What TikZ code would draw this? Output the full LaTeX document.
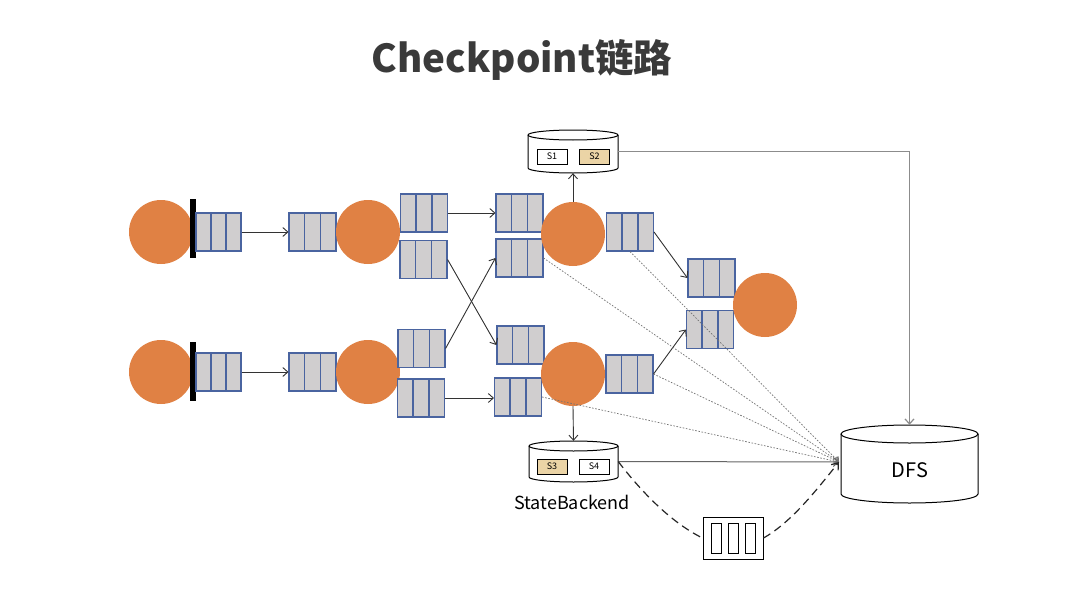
\documentclass[tikz,border=0pt]{standalone}
\usepackage{fontspec}
\setmainfont{Noto Sans CJK SC}
\newfontfamily\cjk{Noto Sans CJK SC}
\usetikzlibrary{arrows.meta,calc}
\definecolor{orng}{HTML}{E08144}
\definecolor{qgray}{HTML}{D0CECF}
\definecolor{qblue}{HTML}{4A64A0}
\definecolor{tan}{HTML}{EBD4A6}
\definecolor{titlec}{HTML}{3A3A3A}
\tikzset{
  proc/.style={circle, fill=orng, minimum size=64, inner sep=0},
  queue/.style={rectangle, draw=qblue, fill=qgray, line width=1.1pt, minimum width=47, minimum height=38, inner sep=0,
    path picture={\draw[qblue,line width=1.4pt]
      ($(path picture bounding box.north west)!1/3!(path picture bounding box.north east)$) -- ($(path picture bounding box.south west)!1/3!(path picture bounding box.south east)$)
      ($(path picture bounding box.north west)!2/3!(path picture bounding box.north east)$) -- ($(path picture bounding box.south west)!2/3!(path picture bounding box.south east)$);}},
  barrier/.style={fill=black, minimum width=6, minimum height=59, inner sep=0},
  conn/.style={draw=black!80, line width=0.9pt, -{Straight Barb[length=5pt,width=9pt]}},
  dotline/.style={draw=black!55, dash pattern=on 1.6pt off 1.6pt, line width=0.7pt, -{Straight Barb[length=4pt,width=7pt]}},
  dashc/.style={draw=black!85, dash pattern=on 8pt off 5pt, line width=1.2pt},
  cyl/.style={draw=black, line width=1pt},
  slot/.style={draw=black, line width=0.9pt, minimum width=30, minimum height=15, inner sep=0, font=\fontsize{9}{9}\selectfont},
}
\begin{document}
\begin{tikzpicture}[x=1pt,y=-1pt]
\useasboundingbox[fill=white] (0,0) rectangle (1080,589);
% title
\node[text=titlec, font=\fontsize{38.5}{38.5}\selectfont\bfseries] (title) at (522,60) {Checkpoint链路};

% top row
\node[proc] (src1) at (161,232) {};
\node[barrier] (bar1) at (193,228.5) {};
\node[queue, minimum width=45] (q1a) at (218.5,232) {};
\node[queue] (q1b) at (312.5,232) {};
\node[proc] (op1) at (368,232) {};
\node[queue] (q1c) at (424,213) {};
\node[queue] (q1d) at (423.5,259.5) {};
\node[queue] (q1e) at (519.5,213) {};
\node[queue] (q1f) at (519.5,258) {};
\node[proc] (op3) at (573,234) {};
\node[queue] (q1g) at (630,232) {};

% bottom row
\node[proc] (src2) at (161,372) {};
\node[barrier] (bar2) at (193,371) {};
\node[queue, minimum width=45] (q2a) at (218.5,372) {};
\node[queue] (q2b) at (312.5,372) {};
\node[proc] (op2) at (368,372) {};
\node[queue] (q2c) at (421.5,348.5) {};
\node[queue] (q2d) at (421,398) {};
\node[queue] (q2e) at (520.5,345) {};
\node[queue] (q2f) at (518,397) {};
\node[proc] (op4) at (573,374) {};
\node[queue] (q2g) at (629.5,374) {};

% right operator
\node[queue] (q3a) at (711.5,278) {};
\node[queue] (q3b) at (710,329.5) {};
\node[proc] (op5) at (765,305) {};

% cylinder A (S1,S2)
\node[minimum width=90, minimum height=43, inner sep=0] (cylA) at (573,151.5) {};
\draw[cyl] (573,135) ellipse [x radius=45pt, y radius=5pt];
\draw[cyl] (528,135) -- (528,168) arc[start angle=180, end angle=360, x radius=45pt, y radius=5pt] -- (618,135);
\node[slot] (s1) at (552,156.5) {S1};
\node[slot, fill=tan] (s2) at (594.5,156.5) {S2};

% cylinder B (S3,S4)
\node[minimum width=89, minimum height=41, inner sep=0] (cylB) at (573.5,461.5) {};
\draw[cyl] (573.5,446) ellipse [x radius=44.5pt, y radius=5pt];
\draw[cyl] (529,446) -- (529,477) arc[start angle=180, end angle=360, x radius=44.5pt, y radius=5pt] -- (618,446);
\node[slot, fill=tan] (s3) at (552,466.5) {S3};
\node[slot] (s4) at (594,466.5) {S4};
\node[font=\fontsize{18}{18}\selectfont] (sb) at (572,502) {StateBackend};

% DFS cylinder
\node[minimum width=137, minimum height=78, inner sep=0] (dfs) at (909.5,464) {};
\draw[cyl] (909.5,434) ellipse [x radius=68.5pt, y radius=9pt];
\draw[cyl] (841,434) -- (841,494) arc[start angle=180, end angle=360, x radius=68.5pt, y radius=9pt] -- (978,434);
\node[font=\fontsize{20}{20}\selectfont] (dfslabel) at (910,470) {DFS};
\coordinate (dfsin) at (839,462);

% buffer box
\node[draw, line width=1pt, minimum width=60, minimum height=42, inner sep=0] (buf) at (733,538) {};
\node[draw, line width=1pt, minimum width=10, minimum height=30, inner sep=0] (b1) at (716,538) {};
\node[draw, line width=1pt, minimum width=10, minimum height=30, inner sep=0] (b2) at (733,538) {};
\node[draw, line width=1pt, minimum width=10, minimum height=30, inner sep=0] (b3) at (750,538) {};

% solid connectors
\draw[conn] (q1a.east) -- (q1b.west);
\draw[conn] (q2a.east) -- (q2b.west);
\draw[conn] (q1c.east) -- (q1e.west);
\draw[conn] (q1d.east) -- (q2e.west);
\draw[conn] (q2c.east) -- (q1f.west);
\draw[conn] (q2d.east) -- (q2f.west |- q2d.east);
\draw[conn] (op3.north) -- (cylA.south);
\draw[conn] (op4.south) -- (cylB.north);
\draw[conn] (q1g.east) -- (q3a.west);
\draw[conn] (q2g.east) -- (q3b.west);
\draw[draw=black!45, line width=1.2pt, -{Straight Barb[length=5pt,width=9pt]}] (cylA.east) -| (dfs.north);
\draw[draw=black!60, line width=1pt, -{Straight Barb[length=5pt,width=9pt]}] (cylB.east) -- (dfsin);

% dotted connectors
\draw[dotline] (q1f.east) -- (dfsin);
\draw[dotline] (q1g.south) -- (dfsin);
\draw[dotline] (q2g.east) -- (dfsin);
\draw[dotline] (q2f.east) -- (dfsin);

% dashed curves
\draw[dashc] (cylB.east) .. controls (640,490) and (670,522) .. (buf.west);
\draw[dashc, -{Straight Barb[length=6pt,width=9pt]}] (buf.east) .. controls (792,522) and (818,488) .. (dfsin);
\end{tikzpicture}
\end{document}
